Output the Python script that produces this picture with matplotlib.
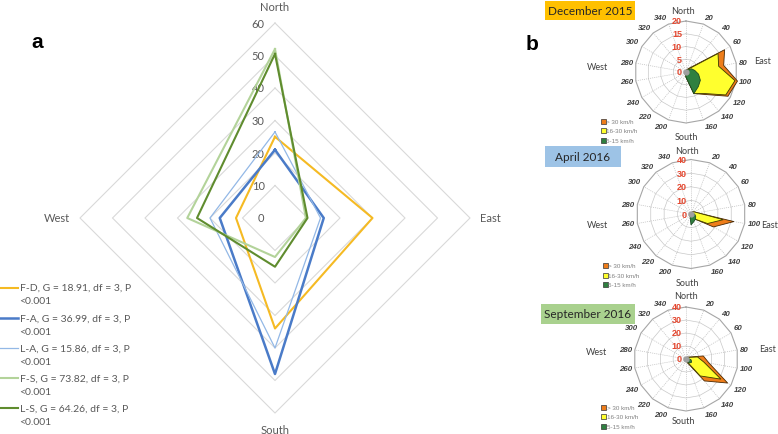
import numpy as np
import matplotlib.pyplot as plt
from matplotlib.patches import Rectangle
from matplotlib.lines import Line2D

W, H = 778, 435

# ---- panel a: radar of headings (%) ----
radar_dirs = ['North', 'East', 'South', 'West']
radar_angles = [0, 90, 180, 270]
radar_ticks = [0, 10, 20, 30, 40, 50, 60]
series_names = ['F-D', 'F-A', 'L-A', 'F-S', 'L-S']
g_values = [18.91, 36.99, 15.86, 73.82, 64.26]
fd = [25, 30, 34, 12]
fa = [21, 15, 48, 17]
la = [26.5, 14, 40, 20]
fs = [52, 9.5, 12, 27]
ls = [50.5, 10, 15, 24]

# ---- panel b: wind roses, directions every 20 deg ----
rose_angles = np.arange(0, 360, 20)
speed_classes = ['> 30 km/h', '16-30 km/h', '5-15 km/h']
dec_fast = [0.5, 1, 2, 17.5, 15, 20.5, 19, 11.5, 9, 2, 0.5, 0.5, 0.5, 0.5, 0.5, 0.5, 0.5, 0.5]
dec_mid = [0.4, 0.8, 1.5, 14.5, 13, 19.5, 18, 11, 9, 2, 0.4, 0.4, 0.4, 0.4, 0.4, 0.4, 0.4, 0.4]
dec_slow = [0.3, 0.5, 1, 2.5, 3.5, 5, 6.5, 7.5, 9, 2, 0.3, 0.3, 0.3, 0.3, 0.3, 0.3, 0.3, 0.3]
apr_fast = [1, 1, 2, 3, 5, 32, 19, 5, 4, 3, 1, 1, 1, 1, 1, 1, 1, 1]
apr_mid = [1, 1, 2, 3, 5, 24, 14, 5, 4, 3, 1, 1, 1, 1, 1, 1, 1, 1]
apr_slow = [0.5, 0.5, 1, 1.5, 2, 3, 4, 5, 6, 8, 2, 0.5, 0.5, 0.5, 0.5, 0.5, 0.5, 0.5]
sep_fast = [1, 1, 2, 3, 13.5, 18, 37, 22, 3, 1, 1, 1, 1, 1, 1, 1, 1, 1]
sep_mid = [1, 1, 1.5, 2.5, 9, 14, 31, 17, 2, 1, 1, 1, 1, 1, 1, 1, 1, 1]
sep_slow = [0.5, 0.5, 1, 1.5, 2, 4, 5, 4, 2, 0.5, 0.5, 0.5, 0.5, 0.5, 0.5, 0.5, 0.5, 0.5]
dec_ticks = [0, 5, 10, 15, 20]
apr_ticks = [0, 10, 20, 30, 40]
sep_ticks = [0, 10, 20, 30, 40]

GRAY = '#595959'
FONT = 'Lato'


def to_xy(r, deg):
    t = np.deg2rad(np.asarray(deg, dtype=float))
    r = np.asarray(r, dtype=float)
    return r * np.sin(t), r * np.cos(t)


def fx(x):
    return x / W


def fy(y):
    return 1 - y / H


fig = plt.figure(figsize=(W / 100, H / 100), dpi=100)

# ---------------- panel a ----------------
ax = fig.add_axes([(275 - 214.5) / W, 1.5 / H, 429 / W, 429 / H])
ax.set_xlim(-66, 66)
ax.set_ylim(-66, 66)
ax.axis('off')
closed = radar_angles + [radar_angles[0]]
for r in radar_ticks[1:]:
    x, y = to_xy([r] * 5, closed)
    ax.plot(x, y, color='#D9D9D9', lw=0.8, zorder=1)
for r in radar_ticks:
    ax.text(-3.2, r, str(r), ha='right', va='center', fontsize=8,
            color=GRAY, family=FONT)
ax.text(0, 65, 'North', ha='center', va='center', fontsize=8, color=GRAY, family=FONT)
ax.text(0, -65.2, 'South', ha='center', va='center', fontsize=8, color=GRAY, family=FONT)
ax.text(63, 0, 'East', ha='left', va='center', fontsize=8, color=GRAY, family=FONT, clip_on=False)
ax.text(-63, 0, 'West', ha='right', va='center', fontsize=8, color=GRAY, family=FONT)

radar_data = [fd, fa, la, fs, ls]
radar_colors = ['#F5BA23', '#4A7BC8', '#93B8E6', '#B3D39A', '#5F8C2E']
radar_lw = [1.5, 1.8, 0.9, 1.5, 1.5]
for vals, col, lw in zip(radar_data, radar_colors, radar_lw):
    x, y = to_xy(vals + [vals[0]], closed)
    ax.plot(x, y, color=col, lw=lw, zorder=3)

# legend, two text lines per entry
for i, (name, g, col, lw) in enumerate(zip(series_names, g_values, radar_colors, radar_lw)):
    y0 = 288.5 + i * 30.2
    fig.add_artist(Line2D([fx(0), fx(18)], [fy(y0), fy(y0)], color=col, lw=lw))
    fig.text(fx(19.5), fy(y0), '%s, G = %.2f, df = 3, P' % (name, g), ha='left',
             va='center', fontsize=7.5, color=GRAY, family=FONT)
    fig.text(fx(19.5), fy(y0 + 13.5), '<0.001', ha='left', va='center',
             fontsize=7.5, color=GRAY, family=FONT)

fig.text(fx(37), fy(43), 'a', ha='center', va='center', fontsize=15,
         fontweight='bold', family='Liberation Sans')
fig.text(fx(532), fy(45), 'b', ha='center', va='center', fontsize=15,
         fontweight='bold', family='Liberation Sans')


# ---------------- panel b ----------------
def draw_rose(cx, cy, rpx, ticks, fast, mid, slow, offsets, leg_xy, title, box, box_color):
    rmax = ticks[-1]
    k = 1.9
    half = k * rpx
    a = fig.add_axes([fx(cx - half), fy(cy + half), 2 * half / W, 2 * half / H])
    a.set_xlim(-k * rmax, k * rmax)
    a.set_ylim(-k * rmax, k * rmax)
    a.axis('off')
    u = rmax / rpx  # data units per pixel
    ring = np.append(rose_angles, 0)
    for t in ticks[1:]:
        x, y = to_xy(np.full(ring.size, t), ring)
        last = t == rmax
        a.plot(x, y, color='#A6A6A6' if last else '#C8C8C8', lw=0.8 if last else 0.5, zorder=1)
    for ang in rose_angles:
        x, y = to_xy([0, rmax], [ang, ang])
        a.plot(x, y, color='#BDBDBD', lw=0.5, ls=(0, (1.5, 1.5)), zorder=1)
    for vals, face, edge in [(fast, '#EE7D1A', '#4A2A05'), (mid, '#FFFF2E', '#3A3A00'),
                             (slow, '#2F8040', '#1B4A22')]:
        x, y = to_xy(np.append(vals, vals[0]), ring)
        a.fill(x, y, facecolor=face, edgecolor=edge, lw=0.6, zorder=2)
    a.scatter([0], [0], s=12, color='#A0A0A0', zorder=3)
    for t in ticks:
        a.text(-4 * u, t, str(t), ha='right', va='center', fontsize=6.5,
               fontweight='bold', color='#E4472F', family='Liberation Sans', zorder=4)
    for ang in rose_angles[1:]:
        if ang == 180:
            continue  # hidden under the South label
        x, y = to_xy(rmax + 3 * u, ang)
        s, c = np.sin(np.deg2rad(ang)), np.cos(np.deg2rad(ang))
        ha = 'left' if s > 0.2 else ('right' if s < -0.2 else 'center')
        va = 'bottom' if c > 0.3 else ('top' if c < -0.3 else 'center')
        a.text(x, y, str(ang), ha=ha, va=va, fontsize=5.7, fontstyle='italic',
               fontweight='bold', color='#404040', family='Liberation Sans')
    for name, (dx, dy) in zip(['North', 'East', 'South', 'West'], offsets):
        a.text(dx * u, -dy * u, name, ha='center', va='center', fontsize=6.5,
               color='#404040', family=FONT)
    lx, ly = leg_xy
    for j, (lab, face) in enumerate(zip(speed_classes, ['#EE7D1A', '#FFFF2E', '#2F8040'])):
        yy = ly + j * 9.6
        fig.add_artist(Rectangle((fx(lx - 2.5), fy(yy + 2.5)), 5 / W, 5 / H,
                                 transform=fig.transFigure, facecolor=face,
                                 edgecolor='#333333', lw=0.5))
        fig.text(fx(lx + 3.5), fy(yy), lab, ha='left', va='center', fontsize=4.5,
                 color='#808080', family='Liberation Sans')
    bx0, by0, bx1, by1 = box
    fig.add_artist(Rectangle((fx(bx0), fy(by1)), (bx1 - bx0) / W, (by1 - by0) / H,
                             transform=fig.transFigure, facecolor=box_color, lw=0))
    fig.text(fx((bx0 + bx1) / 2), fy((by0 + by1) / 2), title, ha='center', va='center',
             fontsize=8.5, color='#262626', family=FONT)


draw_rose(686, 73, 51, dec_ticks, dec_fast, dec_mid, dec_slow,
          [(-3, -61), (77, -11), (0, 65), (-89, -5)], (603, 122.3),
          'December 2015', (545, 1.7, 635, 20.7), '#FFC000')
draw_rose(691, 215, 54.5, apr_ticks, apr_fast, apr_mid, apr_slow,
          [(-4, -63), (79, 10), (-4, 69), (-94, 10)], (605, 266.7),
          'April 2016', (545, 146.7, 620.7, 167.7), '#9DC3E6')
draw_rose(686, 360, 52, sep_ticks, sep_fast, sep_mid, sep_slow,
          [(0, -63), (82, -10), (-3, 62), (-90, -7)], (603.3, 408.3),
          'September 2016', (540.7, 305, 635, 325), '#A9D18E')

fig.savefig('out.png', dpi=100)
